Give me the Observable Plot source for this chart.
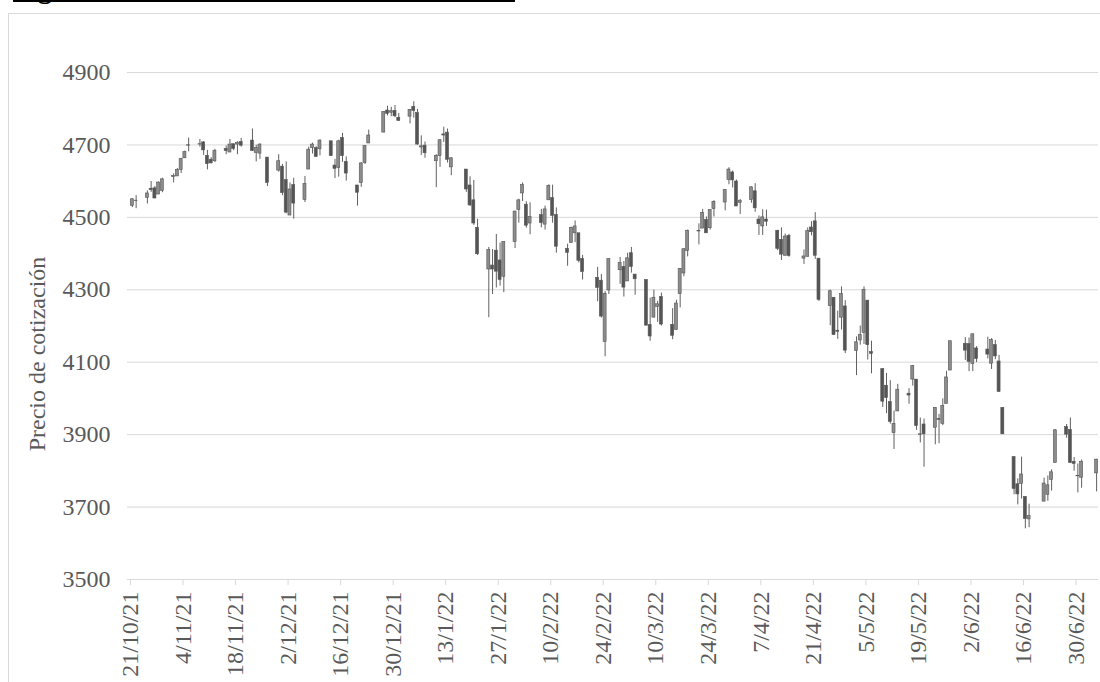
<!DOCTYPE html>
<html><head><meta charset="utf-8">
<script src="https://cdn.jsdelivr.net/npm/d3@7"></script>
<script src="https://cdn.jsdelivr.net/npm/@observablehq/plot@0.6"></script>
<style>
body{margin:0;background:#fff;width:1100px;height:682px;overflow:hidden;position:relative;font-family:"Liberation Serif","Times New Roman",serif;}
#chart{position:absolute;left:0;top:0;}
#frame{position:absolute;left:8px;top:13px;width:1110px;height:700px;border:1px solid #d9d9d9;box-sizing:border-box;pointer-events:none;}
#titlebox{position:absolute;left:13px;top:0;width:502px;height:6px;overflow:hidden;}
#title{position:absolute;left:0;top:-25px;font-size:28px;line-height:28px;font-weight:bold;white-space:nowrap;color:#000;}
#uline{position:absolute;left:13px;top:0;width:502px;height:1.5px;background:#000;}
</style></head>
<body>
<div id="chart"></div>
<div id="frame"></div>
<div id="titlebox"><div id="title">Figura 1. Cotización diaria del índice S&amp;P 500</div></div>
<div id="uline"></div>
<script>
const dates = [
"2021-10-21","2021-10-22","2021-10-25","2021-10-26","2021-10-27","2021-10-28","2021-10-29",
"2021-11-01","2021-11-02","2021-11-03","2021-11-04","2021-11-05","2021-11-08","2021-11-09","2021-11-10","2021-11-11","2021-11-12","2021-11-15","2021-11-16","2021-11-17","2021-11-18","2021-11-19","2021-11-22","2021-11-23","2021-11-24","2021-11-26","2021-11-29","2021-11-30",
"2021-12-01","2021-12-02","2021-12-03","2021-12-06","2021-12-07","2021-12-08","2021-12-09","2021-12-10","2021-12-13","2021-12-14","2021-12-15","2021-12-16","2021-12-17","2021-12-20","2021-12-21","2021-12-22","2021-12-23","2021-12-27","2021-12-28","2021-12-29","2021-12-30","2021-12-31",
"2022-01-03","2022-01-04","2022-01-05","2022-01-06","2022-01-07","2022-01-10","2022-01-11","2022-01-12","2022-01-13","2022-01-14","2022-01-18","2022-01-19","2022-01-20","2022-01-21","2022-01-24","2022-01-25","2022-01-26","2022-01-27","2022-01-28","2022-01-31",
"2022-02-01","2022-02-02","2022-02-03","2022-02-04","2022-02-07","2022-02-08","2022-02-09","2022-02-10","2022-02-11","2022-02-14","2022-02-15","2022-02-16","2022-02-17","2022-02-18","2022-02-22","2022-02-23","2022-02-24","2022-02-25","2022-02-28",
"2022-03-01","2022-03-02","2022-03-03","2022-03-04","2022-03-07","2022-03-08","2022-03-09","2022-03-10","2022-03-11","2022-03-14","2022-03-15","2022-03-16","2022-03-17","2022-03-18","2022-03-21","2022-03-22","2022-03-23","2022-03-24","2022-03-25","2022-03-28","2022-03-29","2022-03-30","2022-03-31",
"2022-04-01","2022-04-04","2022-04-05","2022-04-06","2022-04-07","2022-04-08","2022-04-11","2022-04-12","2022-04-13","2022-04-14","2022-04-18","2022-04-19","2022-04-20","2022-04-21","2022-04-22","2022-04-25","2022-04-26","2022-04-27","2022-04-28","2022-04-29",
"2022-05-02","2022-05-03","2022-05-04","2022-05-05","2022-05-06","2022-05-09","2022-05-10","2022-05-11","2022-05-12","2022-05-13","2022-05-16","2022-05-17","2022-05-18","2022-05-19","2022-05-20","2022-05-23","2022-05-24","2022-05-25","2022-05-26","2022-05-27","2022-05-31",
"2022-06-01","2022-06-02","2022-06-03","2022-06-06","2022-06-07","2022-06-08","2022-06-09","2022-06-10","2022-06-13","2022-06-14","2022-06-15","2022-06-16","2022-06-17","2022-06-21","2022-06-22","2022-06-23","2022-06-24","2022-06-27","2022-06-28","2022-06-29","2022-06-30",
"2022-07-01","2022-07-05"];

const open = [
4532,4546,4554,4579,4580,4563,4573,
4611,4613,4631,4663,4699,4701,4707,4670,4659,4655,4689,4679,4702,4701,4708,4712,4678,4676,4665,4629,4640,
4603,4505,4589,4548,4632,4691,4691,4688,4710,4643,4636,4719,4653,4588,4595,4650,4704,4734,4795,4789,4794,4775,
4778,4805,4788,4693,4698,4655,4669,4729,4734,4638,4632,4588,4547,4471,4356,4367,4408,4381,4336,4432,
4520,4566,4535,4483,4506,4480,4547,4553,4506,4413,4429,4456,4456,4385,4333,4325,4156,4298,4354,
4363,4323,4401,4342,4327,4203,4223,4253,4280,4203,4189,4288,4345,4407,4462,4469,4493,4470,4523,4541,4603,4624,4599,
4540,4548,4572,4494,4475,4494,4463,4438,4394,4449,4386,4391,4472,4489,4386,4255,4278,4187,4223,4254,
4131,4160,4181,4270,4128,4081,4035,3990,3904,3964,4013,4052,4052,3899,3928,3919,3943,3930,3985,4077,4151,
4150,4095,4138,4135,4096,4147,4102,3974,3838,3763,3764,3728,3666,3715,3734,3775,3822,3921,3913,3825,3786,
3781,3793];

const high = [
4551,4560,4573,4599,4585,4598,4608,
4620,4635,4663,4683,4719,4715,4709,4685,4665,4688,4697,4715,4702,4709,4718,4744,4699,4703,4665,4673,4646,
4653,4595,4608,4613,4694,4705,4695,4714,4710,4660,4713,4732,4667,4588,4651,4698,4741,4791,4807,4804,4809,4787,
4797,4819,4798,4725,4708,4673,4714,4749,4744,4665,4632,4612,4602,4495,4417,4411,4453,4429,4433,4517,
4550,4595,4543,4540,4522,4531,4590,4589,4526,4426,4473,4490,4456,4395,4362,4342,4295,4385,4389,
4378,4401,4417,4342,4327,4277,4299,4268,4291,4248,4271,4358,4413,4465,4482,4522,4501,4521,4546,4576,4637,4628,4603,
4549,4584,4593,4504,4521,4520,4464,4471,4454,4453,4410,4471,4488,4513,4386,4299,4278,4241,4308,4270,
4170,4200,4308,4270,4158,4081,4069,4049,3965,4039,4027,4091,4052,3946,3943,3975,3956,3999,4075,4158,4168,
4167,4178,4143,4169,4165,4160,4119,3974,3838,3778,3838,3728,3708,3780,3786,3803,3914,3928,3946,3837,3819,
3830,3832];

const low = [
4527,4524,4537,4569,4552,4563,4568,
4595,4613,4621,4663,4681,4694,4671,4631,4648,4651,4673,4679,4684,4673,4694,4682,4653,4660,4585,4625,4560,
4510,4505,4495,4541,4632,4675,4666,4670,4668,4607,4611,4652,4600,4531,4583,4646,4704,4734,4780,4778,4775,4766,
4758,4774,4699,4671,4663,4582,4638,4707,4650,4615,4569,4530,4478,4395,4223,4287,4305,4310,4292,4414,
4484,4544,4470,4452,4471,4465,4547,4484,4401,4365,4429,4430,4374,4327,4267,4222,4115,4287,4315,
4280,4323,4346,4285,4200,4158,4223,4210,4200,4162,4188,4250,4336,4391,4424,4469,4456,4465,4501,4518,4590,4581,4530,
4508,4539,4514,4450,4450,4475,4408,4381,4393,4390,4370,4391,4449,4384,4268,4201,4175,4163,4189,4124,
4063,4147,4149,4106,4068,3975,3958,3929,3859,3964,3984,4034,3912,3877,3810,3872,3875,3925,3985,4077,4105,
4074,4074,4099,4109,4080,4107,4017,3900,3734,3706,3722,3640,3643,3715,3716,3744,3822,3890,3820,3799,3739,
3752,3742];

const close = [
4550,4545,4566,4575,4552,4596,4605,
4614,4631,4661,4680,4698,4702,4685,4647,4649,4683,4683,4701,4689,4705,4698,4683,4691,4701,4595,4655,4567,
4513,4577,4538,4592,4687,4701,4667,4712,4669,4634,4710,4669,4621,4568,4649,4697,4726,4791,4786,4793,4779,4766,
4797,4794,4701,4696,4677,4670,4713,4726,4659,4663,4577,4533,4483,4398,4410,4356,4350,4327,4432,4516,
4547,4589,4477,4501,4484,4522,4587,4504,4419,4402,4471,4475,4380,4349,4305,4226,4289,4385,4374,
4306,4387,4363,4329,4201,4171,4278,4260,4204,4173,4262,4358,4412,4463,4461,4512,4456,4520,4543,4576,4632,4602,4530,
4546,4583,4525,4481,4500,4488,4413,4397,4447,4393,4392,4462,4459,4394,4272,4296,4175,4184,4288,4132,
4155,4175,4300,4147,4123,3991,4001,3935,3930,4024,4008,4089,3924,3901,3901,3974,3941,3979,4058,4158,4132,
4101,4177,4109,4121,4161,4116,4018,3901,3750,3735,3790,3667,3675,3765,3760,3796,3912,3900,3822,3819,3785,
3825,3831];

const tickLabels = ["21/10/21","4/11/21","18/11/21","2/12/21","16/12/21","30/12/21","13/1/22","27/1/22","10/2/22","24/2/22","10/3/22","24/3/22","7/4/22","21/4/22","5/5/22","19/5/22","2/6/22","16/6/22","30/6/22"];
const yTicks = [3500,3700,3900,4100,4300,4500,4700,4900];
const yLabel = "Precio de cotización";

const DAY = 86400000;
const parseLabel = s => { const [d,m,y] = s.split("/").map(Number); return new Date(Date.UTC(2000+y, m-1, d)); };
const tickDates = tickLabels.map(parseLabel);
const fmt = d => tickLabels[tickDates.findIndex(t => +t === +d)];
const t = dates.map(s => new Date(s + "T00:00:00Z").getTime());
const idx = d3.range(dates.length);

const chart = Plot.plot({
  width: 1100, height: 682,
  marginLeft: 130, marginRight: 2, marginTop: 72, marginBottom: 103,
  style: {fontFamily: '"Liberation Serif","Times New Roman",serif', background: "transparent"},
  x: {type: "utc", domain: [new Date("2021-10-21T00:00:00Z"), new Date("2022-07-06T00:00:00Z")]},
  y: {domain: [3500, 4900]},
  color: {type: "identity"},
  marks: [
    Plot.gridY(yTicks, {stroke: "#d9d9d9", strokeOpacity: 1, strokeWidth: 1, insetLeft: -3}),
    Plot.axisY({ticks: yTicks, tickFormat: d => String(d), tickSize: 0, tickPadding: 20, fontSize: 24, fill: "#595959", label: null}),
    Plot.axisX({ticks: tickDates, tickFormat: fmt, tickRotate: -90, tickSize: 6, tickPadding: 6,
      fontSize: 24, fill: "#595959", stroke: "#d9d9d9", strokeOpacity: 1, label: null}),
    Plot.text([yLabel], {frameAnchor: "left", textAnchor: "middle", rotate: -90, dx: -93, dy: 28, fontSize: 24, fill: "#595959"}),
    Plot.ruleX(idx, {x: i => new Date(t[i] + DAY/2), y1: i => low[i], y2: i => high[i], stroke: "#606060", strokeWidth: 1}),
    Plot.rect(idx, {
      x1: i => new Date(t[i] + 0.1*DAY), x2: i => new Date(t[i] + 0.9*DAY),
      y1: i => open[i], y2: i => close[i],
      fill: i => close[i] >= open[i] ? "#8c8c8c" : "#555555",
      stroke: "#555555", strokeWidth: 0.6
    })
  ]
});
document.getElementById("chart").appendChild(chart);
</script>
</body></html>
